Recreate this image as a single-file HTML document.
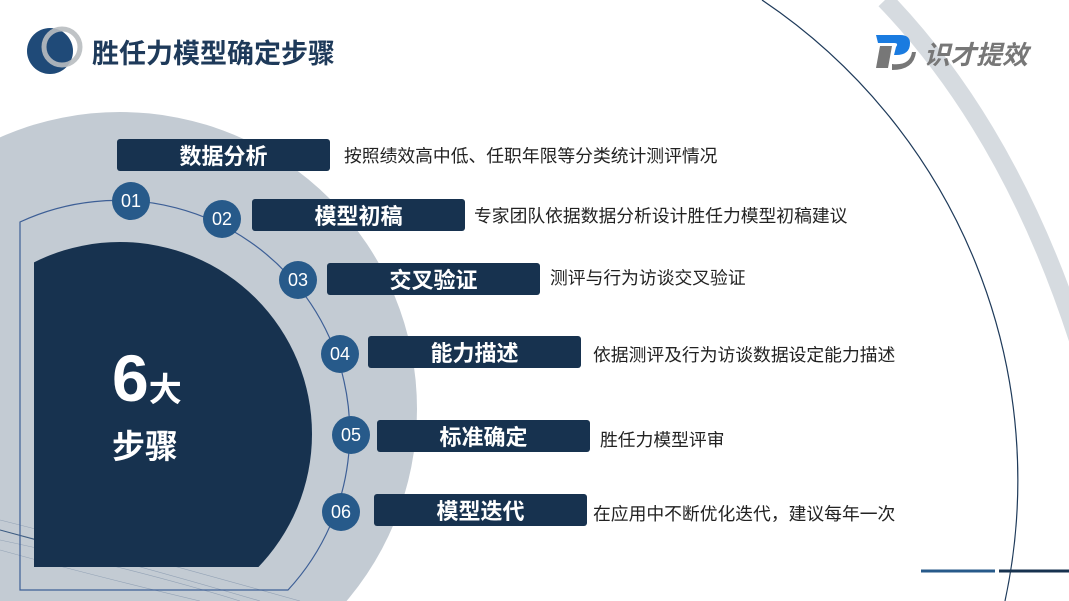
<!DOCTYPE html>
<html><head><meta charset="utf-8"><style>
html,body{margin:0;width:1069px;height:601px;overflow:hidden}
body{background:#fff;font-family:"Liberation Sans","Noto Sans CJK SC",sans-serif;position:relative}
.a{position:absolute}
.box{position:absolute;width:213px;height:32px;background:#17324f;border-radius:3px;color:#fff;font-weight:bold;font-size:22px;line-height:36px;text-align:center}
.d{position:absolute;font-size:17.8px;color:#222;line-height:20px;white-space:nowrap}
.n{position:absolute;width:38px;height:38px;border-radius:50%;background:#275a8a;color:#fff;font-size:18px;line-height:38px;text-align:center}
</style></head><body>
<svg class="a" style="left:0;top:0" width="1069" height="601">
<circle cx="120" cy="409" r="297" fill="#c3cbd3"/>
<path d="M885 0 Q1010 130 1078 340" fill="none" stroke="#d6dbe0" stroke-width="18"/>
<path d="M762 0 A578 578 0 0 1 1005 601" fill="none" stroke="#1e3a5a" stroke-width="1.2"/>
<g stroke="#7d90a8" stroke-width="0.6" fill="none" opacity="0.7">
<path d="M0 530 Q120 560 260 601"/><path d="M0 540 Q140 570 240 601"/><path d="M0 520 Q100 545 300 601"/><path d="M0 550 Q90 575 200 601"/>
</g>
<path d="M0 530 L110 560" stroke="#3a5a80" stroke-width="1"/>
<clipPath id="c"><rect x="34" y="0" width="400" height="567"/></clipPath>
<circle cx="120" cy="434" r="192" fill="#17324f" clip-path="url(#c)"/>
<path d="M20 222 A232 232 0 0 1 288 590 L20 590 Z" fill="none" stroke="#3d5f96" stroke-width="1.2"/>
<line x1="921" y1="571" x2="995" y2="571" stroke="#275a8a" stroke-width="3"/>
<line x1="999" y1="571" x2="1069" y2="571" stroke="#17324f" stroke-width="3"/>
<circle cx="50" cy="51" r="23" fill="#1f4a78"/>
<circle cx="62" cy="47" r="18" fill="none" stroke="#b8bcc0" stroke-width="5" opacity="0.9"/>
<path d="M876 35 h24 q10 0 10 8 q0 12-14 12 h-2 l2-8 q3-4-2-4 h-16z" fill="#1a7be0"/>
<path d="M880 46 h12 l-4 22 h-12z M892 64 q18 2 20-12 l4 0 q-2 18-24 18z" fill="#777"/>
<text x="924" y="64" font-size="26" font-weight="bold" fill="#777" font-style="italic" font-family="Liberation Sans,Noto Sans CJK SC,sans-serif">识才提效</text>
</svg>
<div class="a" style="left:92px;top:32px;font-size:27px;font-weight:bold;color:#1e3a5a;white-space:nowrap">胜任力模型确定步骤</div>
<div class="a" style="left:112px;top:338px;color:#fff;font-weight:bold;font-size:66px;line-height:80px">6<span style="font-size:33px">大</span></div>
<div class="a" style="left:112px;top:427px;color:#fff;font-weight:bold;font-size:33px;line-height:40px">步骤</div>
<div class="box" style="left:117px;top:139px">数据分析</div><div class="d" style="left:344px;top:146px">按照绩效高中低、任职年限等分类统计测评情况</div>
<div class="box" style="left:252px;top:199px">模型初稿</div><div class="d" style="left:474px;top:206px">专家团队依据数据分析设计胜任力模型初稿建议</div>
<div class="box" style="left:327px;top:263px">交叉验证</div><div class="d" style="left:550px;top:268px">测评与行为访谈交叉验证</div>
<div class="box" style="left:368px;top:336px">能力描述</div><div class="d" style="left:593px;top:345px">依据测评及行为访谈数据设定能力描述</div>
<div class="box" style="left:377px;top:420px">标准确定</div><div class="d" style="left:600px;top:430px">胜任力模型评审</div>
<div class="box" style="left:374px;top:494px">模型迭代</div><div class="d" style="left:593px;top:504px">在应用中不断优化迭代，建议每年一次</div>
<div class="n" style="left:112px;top:182px">01</div>
<div class="n" style="left:203px;top:200px">02</div>
<div class="n" style="left:279px;top:261px">03</div>
<div class="n" style="left:321px;top:335px">04</div>
<div class="n" style="left:332px;top:416px">05</div>
<div class="n" style="left:322px;top:493px">06</div>
</body></html>
